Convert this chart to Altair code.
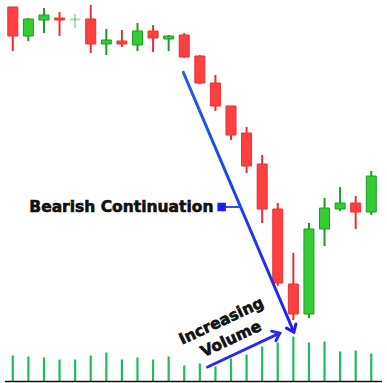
import math

import altair as alt
import pandas as pd

# --- candle data (one row per session) -------------------------------------
opens = [98.25, 91.0, 95.0, 95.5, 95.0, 95.25, 89.0, 89.75, 88.75, 92.25, 90.25, 91.25,
         86.0, 79.25, 73.5, 66.75, 59.0, 47.75, 29.0, 21.5, 42.75, 47.75, 49.25, 47.0]
highs = [98.25, 95.5, 98.0, 97.0, 96.5, 98.75, 92.75, 92.5, 94.25, 93.75, 91.25, 91.75,
         86.25, 81.25, 73.5, 68.25, 61.25, 49.25, 36.75, 44.25, 50.5, 53.25, 51.0, 57.25]
lows = [87.25, 89.75, 91.75, 91.0, 93.0, 86.75, 86.25, 88.25, 87.25, 87.0, 87.25, 85.5,
        79.0, 72.25, 65.0, 56.75, 44.25, 28.5, 20.0, 20.5, 38.5, 47.25, 42.75, 46.25]
closes = [91.0, 95.25, 96.25, 95.0, 95.25, 89.0, 90.0, 89.0, 92.25, 90.5, 91.0, 85.75,
          79.25, 73.5, 66.25, 58.5, 47.75, 29.25, 21.5, 42.75, 48.0, 49.25, 47.0, 56.0]
volumes = [26, 25, 24, 22, 22, 26, 29, 22, 24, 22, 25, 16, 18, 15, 23, 27, 35, 39, 45, 39,
           40, 30, 31, 28]
faded_sessions = [4]

# --- annotation anchors (session, price) -----------------------------------
trend_start = (10.94, 81.9)
trend_end = (18.03, 17.0)
volume_start = (12.5, 8.25)
volume_end = (17.125, 16.7)
label_anchor = (1.06, 48.25)
marker_anchor = (13.4, 48.25)
connector_end = 14.61
increasing_anchor = (13.375, 19.75)
volume_label_anchor = (14.0, 15.25)

WIDTH, HEIGHT = 387, 383
X_DOMAIN = [-0.5, 23.6875]
PRICE_DOMAIN = [4.25, 100.0]
VOL_DOMAIN = [-1.5, 381.5]

RED_FILL, RED_EDGE = "#ff4040", "#e8302f"
GREEN_FILL, GREEN_EDGE = "#33cc33", "#1e9a26"
VOL_GREEN = "#1fbb5e"
BLUE = "#2a2aee"
INK = "#111111"

n = len(opens)
candles = pd.DataFrame({
    "session": list(range(n)),
    "open": opens, "high": highs, "low": lows, "close": closes,
    "volume": volumes,
})
candles["trend"] = ["up" if c >= o else "down" for o, c in zip(opens, closes)]
candles["style"] = ["faded" if i in faded_sessions else "solid" for i in range(n)]

xs = alt.Scale(domain=X_DOMAIN, nice=False, zero=False)
ps = alt.Scale(domain=PRICE_DOMAIN, nice=False, zero=False)
vs = alt.Scale(domain=VOL_DOMAIN, nice=False, zero=False)

fill_scale = alt.Scale(domain=["up", "down"], range=[GREEN_FILL, RED_FILL])
edge_scale = alt.Scale(domain=["up", "down"], range=[GREEN_EDGE, RED_EDGE])
opacity_enc = alt.Opacity("style:N", scale=alt.Scale(domain=["solid", "faded"], range=[1, 0.35]),
                          legend=None)

x_enc = alt.X("session:Q", scale=xs, axis=None)

volume_bars = alt.Chart(candles).mark_rule(strokeWidth=2.2, color=VOL_GREEN).encode(
    x=x_enc,
    y=alt.Y("volume:Q", scale=vs, axis=None),
    y2=alt.datum(0),
)

baseline = alt.Chart(pd.DataFrame({"start": [X_DOMAIN[0]], "end": [X_DOMAIN[1]], "level": [0]})) \
    .mark_rule(color=INK, strokeWidth=1.5).encode(
        x=alt.X("start:Q", scale=xs, axis=None),
        x2="end:Q",
        y=alt.Y("level:Q", scale=vs, axis=None),
    )

wicks = alt.Chart(candles).mark_rule(strokeWidth=2).encode(
    x=x_enc,
    y=alt.Y("low:Q", scale=ps, axis=None),
    y2="high:Q",
    color=alt.Color("trend:N", scale=edge_scale, legend=None),
    opacity=opacity_enc,
)

bodies = alt.Chart(candles).mark_bar(size=10, strokeWidth=1).encode(
    x=x_enc,
    y=alt.Y("open:Q", scale=ps, axis=None),
    y2="close:Q",
    fill=alt.Fill("trend:N", scale=fill_scale, legend=None),
    stroke=alt.Stroke("trend:N", scale=edge_scale, legend=None),
    opacity=opacity_enc,
)

# pixels per unit on each scale, used to orient arrowheads
KX = WIDTH / (X_DOMAIN[1] - X_DOMAIN[0])
KY = HEIGHT / (PRICE_DOMAIN[1] - PRICE_DOMAIN[0])


def heading(start, end):
    dx = (end[0] - start[0]) * KX
    dy = -(end[1] - start[1]) * KY
    return math.degrees(math.atan2(dy, dx)) % 360


CHEVRON = "M -1 -0.8 L 0 0 L -1 0.8"


def arrow(start, end, stroke, head_color):
    seg = pd.DataFrame({"x0": [start[0]], "y0": [start[1]], "x1": [end[0]], "y1": [end[1]]})
    shaft = alt.Chart(seg).mark_rule(strokeWidth=3, stroke=stroke, strokeCap="round").encode(
        x=alt.X("x0:Q", scale=xs, axis=None),
        y=alt.Y("y0:Q", scale=ps, axis=None),
        x2="x1:Q",
        y2="y1:Q",
    )
    head = alt.Chart(seg).mark_point(
        shape=CHEVRON, filled=False, size=170, strokeWidth=3, color=head_color,
        opacity=1, angle=heading(start, end), strokeCap="round", strokeJoin="miter",
    ).encode(
        x=alt.X("x1:Q", scale=xs, axis=None),
        y=alt.Y("y1:Q", scale=ps, axis=None),
    )
    return [shaft, head]


trend_gradient = alt.LinearGradient(
    gradient="linear",
    stops=[alt.GradientStop(color="#1f62e2", offset=0),
           alt.GradientStop(color="#1c1cff", offset=1)],
    x1=0, y1=0, x2=1, y2=1,
)

trend_arrow = arrow(trend_start, trend_end, trend_gradient, "#1c1cff")
volume_arrow = arrow(volume_start, volume_end, BLUE, BLUE)

marker_df = pd.DataFrame({"x": [marker_anchor[0]], "x1": [connector_end], "y": [marker_anchor[1]]})
connector = alt.Chart(marker_df).mark_rule(strokeWidth=2, color="#2a50ee").encode(
    x=alt.X("x:Q", scale=xs, axis=None),
    x2="x1:Q",
    y=alt.Y("y:Q", scale=ps, axis=None),
)
marker = alt.Chart(marker_df).mark_point(shape="square", filled=True, size=72, color="#1a1aff",
                                         opacity=1).encode(
    x=alt.X("x:Q", scale=xs, axis=None),
    y=alt.Y("y:Q", scale=ps, axis=None),
)

# heavy lettering: bold face plus a thin outline of the same ink
text_style = dict(font="DejaVu Sans", fontWeight="bold", fontSize=15.5, color=INK,
                  stroke=INK, strokeWidth=0.6)

label_df = pd.DataFrame({"x": [label_anchor[0]], "y": [label_anchor[1]],
                         "text": ["Bearish Continuation"]})
bearish_label = alt.Chart(label_df).mark_text(
    align="left", baseline="middle", **text_style,
).encode(
    x=alt.X("x:Q", scale=xs, axis=None),
    y=alt.Y("y:Q", scale=ps, axis=None),
    text="text:N",
)

vol_label_df = pd.DataFrame({
    "x": [increasing_anchor[0], volume_label_anchor[0]],
    "y": [increasing_anchor[1], volume_label_anchor[1]],
    "text": ["Increasing", "Volume"],
})
volume_label = alt.Chart(vol_label_df).mark_text(
    align="center", baseline="middle", angle=335, **text_style,
).encode(
    x=alt.X("x:Q", scale=xs, axis=None),
    y=alt.Y("y:Q", scale=ps, axis=None),
    text="text:N",
)

chart = alt.layer(
    volume_bars, baseline, wicks, bodies,
    *trend_arrow, connector, marker, bearish_label,
    *volume_arrow, volume_label,
).resolve_scale(y="independent").properties(
    width=WIDTH, height=HEIGHT, padding=0, background="white",
).configure_view(stroke=None)

chart.save("out.html", embed_options={"renderer": "svg", "actions": False})
